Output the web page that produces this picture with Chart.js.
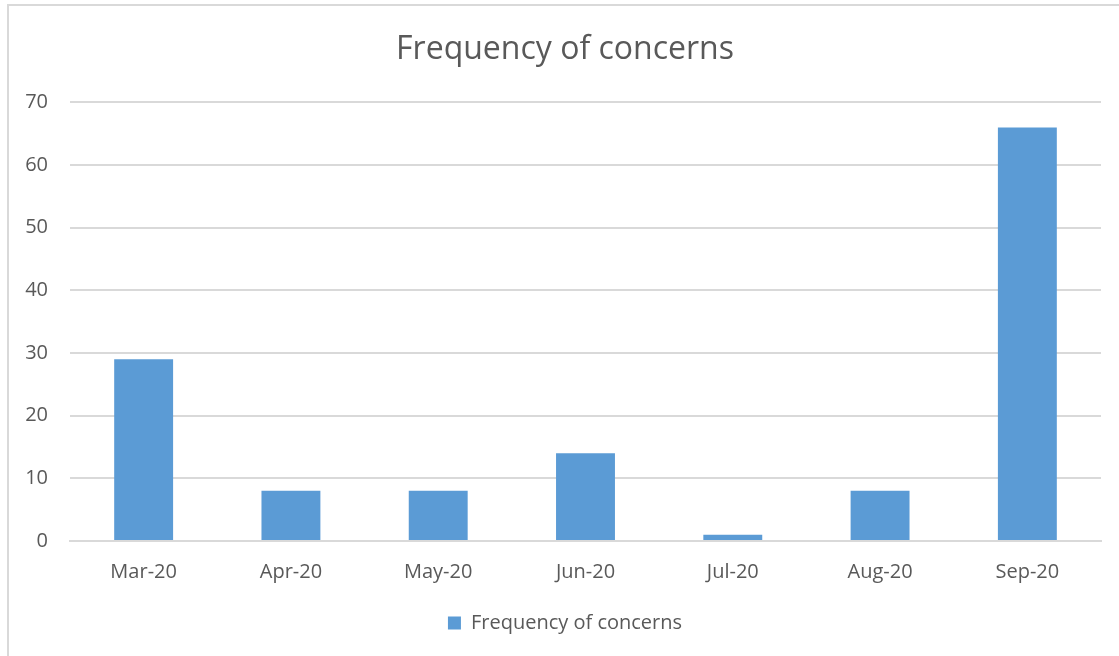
<!DOCTYPE html>
<html>
<head>
<meta charset="utf-8">
<script src="https://cdn.jsdelivr.net/npm/chart.js@4"></script>
<style>
  body { margin: 0; background: #fff; overflow: hidden; }
  .frame {
    position: absolute; left: 7px; top: 4px;
    width: 1200px; height: 700px;
    border: 2px solid #d9d9d9;
  }
  canvas { position: absolute; left: 0; top: 0; }
</style>
</head>
<body>
<div class="frame"></div>
<canvas id="chart" width="1119" height="656"></canvas>
<script>
// datos del gráfico
const months = ['Mar-20', 'Apr-20', 'May-20', 'Jun-20', 'Jul-20', 'Aug-20', 'Sep-20'];
const concerns = [29, 8, 8, 14, 1, 8, 66];
const seriesName = 'Frequency of concerns';

const textColor = '#595959';
const fontFamily = '"Open Sans", sans-serif';

new Chart(document.getElementById('chart').getContext('2d'), {
  type: 'bar',
  data: {
    labels: months,
    datasets: [{
      label: seriesName,
      data: concerns,
      backgroundColor: '#5b9bd5',
      borderWidth: 0,
      barPercentage: 0.4,
      categoryPercentage: 1
    }]
  },
  options: {
    responsive: false,
    animation: false,
    layout: { padding: { left: 17, right: 6, top: 0, bottom: 13 } },
    plugins: {
      title: {
        display: true,
        text: seriesName,
        color: textColor,
        font: { family: fontFamily, size: 32, weight: 'normal' },
        padding: { top: 31, bottom: 33 }
      },
      legend: {
        position: 'bottom',
        labels: {
          color: textColor,
          font: { family: fontFamily, size: 20 },
          boxWidth: 13,
          boxHeight: 13,
          padding: 18
        }
      },
      tooltip: { enabled: false }
    },
    scales: {
      x: {
        grid: { display: false },
        border: { color: '#d9d9d9', width: 2 },
        ticks: { color: textColor, font: { family: fontFamily, size: 20 }, padding: 11 }
      },
      y: {
        min: 0,
        max: 70,
        ticks: { stepSize: 10, color: textColor, font: { family: fontFamily, size: 20 }, padding: 22 },
        grid: { color: '#d9d9d9', lineWidth: 2, drawTicks: false },
        border: { display: false },
        afterFit: (scale) => { scale.width = 53; }
      },
      // eje vacío a la derecha, solo para dejar margen
      yRight: {
        type: 'linear',
        position: 'right',
        grid: { display: false, drawTicks: false },
        ticks: { display: false },
        border: { display: false },
        afterFit: (scale) => { scale.width = 12; }
      }
    }
  }
});
</script>
</body>
</html>
